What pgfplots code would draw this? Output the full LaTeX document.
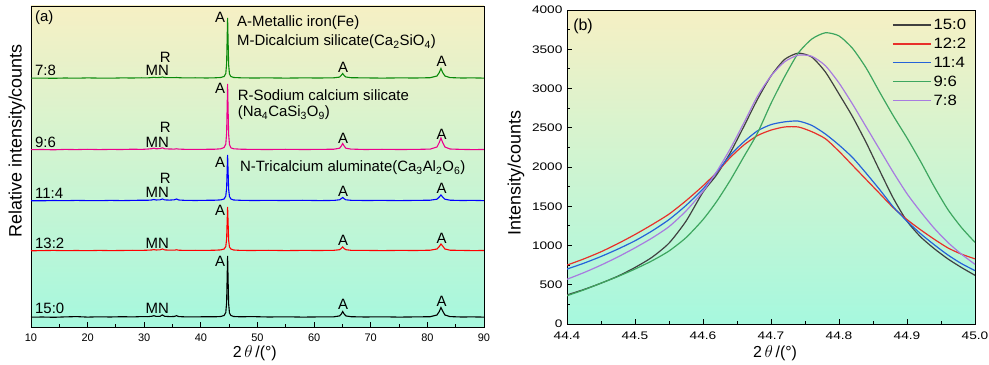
\documentclass[border=0pt]{standalone}
\usepackage{fontspec}
\setmainfont{Liberation Sans}
\newfontfamily\stretchfont{Liberation Sans}[FakeStretch=1.25]
\newfontfamily\legfont{Liberation Sans}[FakeStretch=1.12]
\usepackage{pgfplots}
\pgfplotsset{compat=1.18}
\usepackage{pgfplotstable}

\definecolor{bgtop}{HTML}{F6F0C4}
\definecolor{bgmid}{HTML}{D6F5D2}
\definecolor{bgbot}{HTML}{A6F8DE}
\definecolor{lgreen}{HTML}{0A8A0A}
\definecolor{c15}{HTML}{404040}
\definecolor{c12}{HTML}{E8302A}
\definecolor{c11}{HTML}{2563D9}
\definecolor{c96}{HTML}{3DA65F}
\definecolor{c78}{HTML}{A87BE0}

\pgfplotstableread{
x a b c d e
10 0.3 0.2 0.3 0.3 0.3
12 0.5 0.4 0.2 0.5 0.4
14 0.2 0.6 0.5 0.2 0.2
16 0.6 0.3 0.3 0.6 0.5
18 0.9 0.5 0.6 0.4 0.3
20 0.4 0.3 0.4 0.7 0.6
22 0.7 0.6 0.3 0.4 0.4
24 0.5 0.4 0.6 0.6 0.3
26 0.8 0.5 0.4 0.5 0.6
28 0.6 0.7 0.6 0.8 0.5
29.5 0.9 0.6 0.8 0.6 0.7
30.5 0.8 0.8 0.7 0.9 0.6
31.3 1.2 1.0 1.0 1.3 0.9
31.7 1.8 1.4 1.5 1.8 1.2
32.1 1.1 1.0 1.0 1.2 0.9
32.8 1.2 1.2 1.2 1.4 1.0
33.2 2.6 2.0 2.0 2.2 1.5
33.6 1.2 1.1 1.1 1.2 1.0
34.5 0.9 0.8 0.9 1.0 0.8
35.3 1.0 0.8 1.2 0.9 0.8
35.7 1.8 1.2 2.0 1.2 1.0
36.1 0.9 0.8 1.0 0.9 0.8
37 0.7 0.6 0.7 0.7 0.6
39 0.6 0.7 0.5 0.6 0.7
41 0.8 0.6 0.7 0.7 0.5
42.5 0.7 0.8 0.8 0.8 0.7
43.5 1.0 1.1 1.1 1.2 1.0
44.1 2.0 2.0 2.0 2.5 2.0
44.4 5.0 4.5 5.0 6.0 5.0
44.55 15 12 13 17 15
44.65 42 31 32 45 42
44.72 61.5 44 46 66 60.5
44.8 40 30 31 43 40
44.9 14 11 12 16 14
45.05 4.5 4.0 4.5 5.5 4.5
45.3 2.0 2.0 2.0 2.2 2.0
45.8 1.0 1.0 1.0 1.2 1.0
47 0.7 0.6 0.7 0.8 0.7
49 0.9 0.5 0.5 0.6 0.5
52 0.5 0.7 0.6 0.5 0.6
55 0.7 0.4 0.5 0.7 0.4
58 0.4 0.6 0.7 0.5 0.6
61 0.6 0.5 0.4 0.6 0.5
63.5 0.7 0.7 0.6 0.8 0.7
64.5 1.6 1.3 1.2 1.8 1.4
64.8 3.5 2.6 2.4 4.0 3.2
65.05 6.0 4.0 3.5 6.5 5.0
65.3 3.5 2.5 2.3 4.0 3.0
65.6 1.6 1.3 1.2 1.8 1.5
66.5 0.8 0.7 0.7 0.9 0.8
69 0.5 0.6 0.5 0.5 0.6
72 0.7 0.4 0.6 0.7 0.4
75 0.4 0.6 0.4 0.5 0.6
78 0.6 0.5 0.6 0.6 0.5
80.5 0.8 0.8 0.8 0.9 0.8
81.7 2.5 2.0 1.8 3.0 2.5
82.1 6.0 4.5 4.0 7.5 6.0
82.4 10 7.0 6.0 12 10
82.7 6.5 5.0 4.0 7.5 6.0
83.1 2.5 2.0 1.8 3.0 2.5
84 0.9 0.8 0.8 1.0 0.9
86 0.5 0.6 0.5 0.6 0.5
88 0.6 0.4 0.6 0.4 0.6
90 0.4 0.5 0.4 0.5 0.4
}\xrd

\pgfplotstableread{
x k r b g p
44.400 370 750 700 360 570
44.425 440 830 775 435 655
44.450 520 920 860 520 750
44.475 610 1025 955 605 855
44.500 720 1140 1060 700 970
44.525 850 1265 1185 805 1095
44.550 1030 1400 1330 930 1240
44.575 1310 1570 1510 1100 1440
44.600 1680 1760 1720 1330 1690
44.620 1900 1930 1930 1560 1940
44.640 2180 2120 2150 1830 2230
44.660 2515 2280 2320 2130 2560
44.680 2860 2400 2460 2430 2900
44.700 3160 2470 2540 2810 3160
44.720 3370 2510 2575 3150 3340
44.740 3450 2510 2585 3450 3425
44.760 3400 2450 2530 3630 3410
44.780 3210 2360 2420 3710 3290
44.800 2930 2200 2280 3670 3070
44.820 2640 2020 2120 3510 2800
44.840 2310 1840 1920 3260 2510
44.860 1950 1660 1710 2950 2220
44.880 1600 1480 1490 2650 1930
44.900 1310 1330 1310 2370 1660
44.920 1110 1200 1150 2070 1430
44.940 960 1080 1010 1750 1220
44.960 830 970 880 1460 1040
44.980 720 890 770 1230 890
45.000 620 830 680 1040 760
}\peak

\begin{document}
\begin{tikzpicture}
\useasboundingbox (-31bp,-38bp) rectangle (958bp,327bp);
% ---------------- panel (a)
\begin{axis}[
  at={(0bp,0bp)}, anchor=south west,
  scale only axis, width=453bp, height=321bp,
  xmin=10, xmax=90, ymin=0, ymax=321,
  xtick={10,20,...,90}, minor x tick num=1,
  ytick=\empty, xtick pos=left,
  tick align=inside, major tick length=5bp, minor tick length=3bp,
  axis line style={line width=0.9bp},
  every tick/.style={line width=0.9bp, black},
  axis background/.style={shade, top color=bgtop, middle color=bgmid, bottom color=bgbot},
  /pgf/number format/assume math mode=true,
  ticklabel style={font=\fontsize{11}{13}\selectfont},
  xticklabel style={yshift=-3bp},
  xlabel={2\,$\theta$\,/(°)}, ylabel={Relative intensity/counts},
  every axis x label/.style={at={(axis description cs:0.494,-0.081)}, anchor=center, font=\fontsize{16}{18}\selectfont},
  every axis y label/.style={at={(axis description cs:-0.031,0.58)}, rotate=90, anchor=center, font=\fontsize{18}{20}\selectfont},
]
\addplot[black, line width=1.1bp] table[x=x, y expr=\thisrow{a}+9.5] {\xrd};
\addplot[red, line width=1.1bp] table[x=x, y expr=\thisrow{b}+76] {\xrd};
\addplot[blue, line width=1.1bp] table[x=x, y expr=\thisrow{c}+126] {\xrd};
\addplot[magenta, line width=1.1bp] table[x=x, y expr=\thisrow{d}+177] {\xrd};
\addplot[lgreen, line width=1.1bp] table[x=x, y expr=\thisrow{e}+248.5] {\xrd};

\begin{scope}[every node/.style={font=\fontsize{15}{17}\selectfont, inner sep=0pt}]
\node[anchor=west] at (axis cs:10.7,257) {7:8};
\node[anchor=west] at (axis cs:10.7,185) {9:6};
\node[anchor=west] at (axis cs:10.7,133.7) {11:4};
\node[anchor=west] at (axis cs:10.7,83.7) {13:2};
\node[anchor=west] at (axis cs:10.7,18.7) {15:0};
\node[anchor=west] at (axis cs:10.7,309) {(a)};
% MN / R
\node at (axis cs:32.3,256.3) {MN};
\node at (axis cs:32.3,185) {MN};
\node at (axis cs:32.3,134.3) {MN};
\node at (axis cs:32.3,84) {MN};
\node at (axis cs:32.3,19) {MN};
\node at (axis cs:33.7,269.5) {R};
\node at (axis cs:33.7,199.5) {R};
\node at (axis cs:33.7,148.5) {R};
% A labels
\node at (axis cs:43.4,310) {A};
\node at (axis cs:43.4,239) {A};
\node at (axis cs:43.4,165) {A};
\node at (axis cs:43.4,117) {A};
\node at (axis cs:43.4,66) {A};
\node at (axis cs:65.1,260) {A};
\node at (axis cs:82.5,266) {A};
\node at (axis cs:65.1,189) {A};
\node at (axis cs:82.5,193) {A};
\node at (axis cs:65.1,136) {A};
\node at (axis cs:82.5,139) {A};
\node at (axis cs:65.1,87) {A};
\node at (axis cs:82.5,89) {A};
\node at (axis cs:65.1,23) {A};
\node at (axis cs:82.5,25.3) {A};
% annotations
\node[anchor=west] at (axis cs:46.38,304) {A-Metallic iron(Fe)};
\node[anchor=west] at (axis cs:46.38,285) {M-Dicalcium silicate(Ca\textsubscript{2}SiO\textsubscript{4})};
\node[anchor=west] at (axis cs:46.5,232) {R-Sodium calcium silicate};
\node[anchor=west] at (axis cs:46.5,214) {(Na\textsubscript{4}CaSi\textsubscript{3}O\textsubscript{9})};
\node[anchor=west] at (axis cs:46.9,159) {N-Tricalcium aluminate(Ca\textsubscript{3}Al\textsubscript{2}O\textsubscript{6})};
\end{scope}
\end{axis}

% ---------------- panel (b)
\begin{axis}[
  at={(536bp,3bp)}, anchor=south west,
  scale only axis, width=408bp, height=314bp,
  xmin=44.4, xmax=45.0, ymin=0, ymax=4000,
  xtick={44.4,44.5,44.6,44.7,44.8,44.9,45.0}, minor x tick num=1,
  ytick={0,500,...,4000}, minor y tick num=1,
  xtick pos=left, ytick pos=left,
  tick align=inside, major tick length=5bp, minor tick length=3bp,
  axis line style={line width=0.9bp},
  every tick/.style={line width=0.9bp, black},
  axis background/.style={shade, top color=bgtop, middle color=bgmid, bottom color=bgbot},
  /pgf/number format/assume math mode=true,
  /pgf/number format/1000 sep={},
  ticklabel style={font=\stretchfont\fontsize{11}{13}\selectfont},
  xticklabel style={yshift=-4bp, /pgf/number format/.cd, fixed, fixed zerofill, precision=1},
  yticklabel style={xshift=-1bp},
  xlabel={2\,$\theta$\,/(°)}, ylabel={Intensity/counts},
  every axis x label/.style={at={(axis description cs:0.51,-0.092)}, anchor=center, font=\fontsize{16}{18}\selectfont},
  every axis y label/.style={at={(axis description cs:-0.125,0.48)}, rotate=90, anchor=center, font=\fontsize{18}{20}\selectfont},
  legend style={at={(0.797,0.978)}, anchor=north west, draw=none, fill=none,
    font=\legfont\fontsize{15}{17}\selectfont, row sep=3bp, inner sep=0pt},
  legend cell align=left,
  legend image code/.code={\draw[#1] (0bp,0bp) -- (38bp,0bp);},
]
\addplot[c15, line width=1.2bp, smooth, tension=0.4] table[x=x, y=k] {\peak};
\addlegendentry{15:0}
\addplot[c12, line width=1.2bp, smooth, tension=0.4] table[x=x, y=r] {\peak};
\addlegendentry{12:2}
\addplot[c11, line width=1.2bp, smooth, tension=0.4] table[x=x, y=b] {\peak};
\addlegendentry{11:4}
\addplot[c96, line width=1.2bp, smooth, tension=0.4] table[x=x, y=g] {\peak};
\addlegendentry{9:6}
\addplot[c78, line width=1.2bp, smooth, tension=0.4] table[x=x, y=p] {\peak};
\addlegendentry{7:8}
\node[font=\fontsize{16}{18}\selectfont, inner sep=0pt, anchor=west] at (axis cs:44.409,3790) {(b)};
\end{axis}
\end{tikzpicture}
\end{document}
